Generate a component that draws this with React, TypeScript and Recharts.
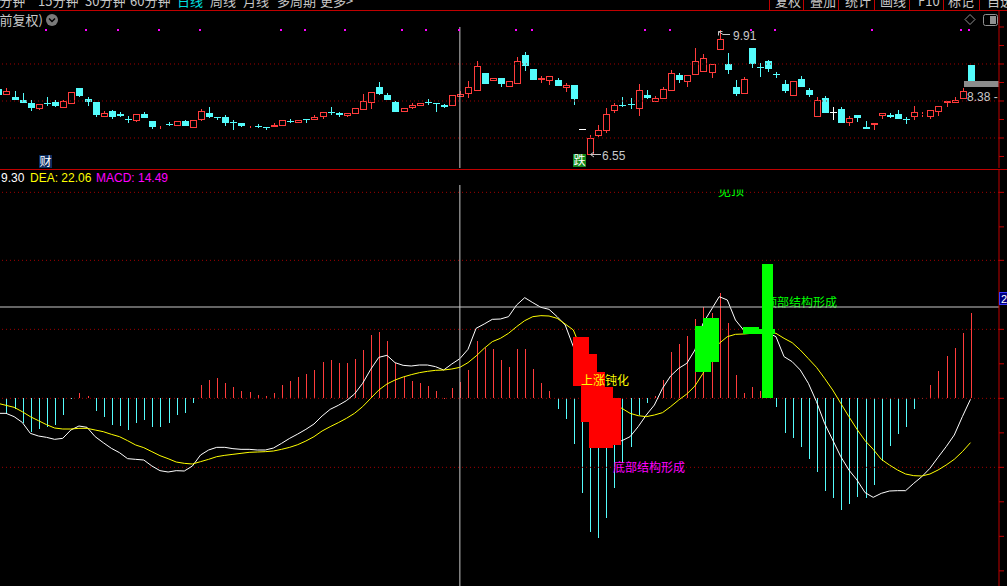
import React from "react";
import { Bar, ComposedChart, Line, ReferenceArea, ReferenceDot, ReferenceLine, XAxis, YAxis } from "recharts";

// daily candles (price)
const OPEN = [8.32, 8.15, 8.11, 8.03, 7.95, 7.79, 7.95, 7.97, 7.82, 7.93,
  8.35, 8.05, 7.97, 7.58, 7.72, 7.65, 7.51, 7.47, 7.65, 7.46,
  7.32, 7.39, 7.32, 7.46, 7.28, 7.49, 7.68, 7.57, 7.56, 7.42,
  7.41, 7.32, 7.33, 7.30, 7.31, 7.32, 7.46, 7.40, 7.51, 7.49,
  7.56, 7.69, 7.68, 7.60, 7.66, 7.76, 7.95, 8.38, 8.16, 7.97,
  7.71, 7.82, 7.86, 7.97, 7.95, 7.89, 7.86, 8.12, 8.18, 8.28,
  8.76, 8.55, 8.62, 8.39, 8.47, 9.25, 8.86, 8.56, 8.55, 8.57,
  8.36, 8.43, 7.24, 6.55, 7.06, 7.20, 7.74, 7.90, 7.92, 7.78,
  8.16, 7.98, 8.06, 8.28, 8.70, 8.52, 8.71, 8.79, 8.76, 9.37,
  9.00, 8.38, 8.20, 9.43, 8.92, 9.07, 8.74, 8.46, 8.13, 8.59,
  8.31, 7.58, 8.08, 7.71, 7.79, 7.40, 7.61, 7.30, 7.35, 7.59,
  7.62, 7.64, 7.52, 7.58, 7.62, 7.58, 7.71, 7.94, 7.94, 8.05,
  8.97];
const HIGH = [8.32, 8.34, 8.27, 8.22, 8.03, 7.91, 8.11, 8.02, 8.02, 8.24,
  8.35, 8.11, 7.97, 7.73, 7.76, 7.70, 7.59, 7.64, 7.69, 7.46,
  7.34, 7.43, 7.45, 7.49, 7.48, 7.78, 7.84, 7.57, 7.61, 7.49,
  7.41, 7.34, 7.38, 7.30, 7.41, 7.48, 7.51, 7.48, 7.51, 7.62,
  7.70, 7.83, 7.71, 7.68, 7.81, 8.20, 8.24, 8.51, 8.22, 8.00,
  7.80, 7.95, 7.94, 8.05, 7.95, 7.93, 8.15, 8.27, 8.54, 9.08,
  8.76, 8.61, 8.62, 8.54, 9.18, 9.32, 8.86, 8.68, 8.68, 8.61,
  8.49, 8.43, 7.24, 7.08, 7.35, 7.82, 7.94, 8.11, 8.08, 8.47,
  8.30, 8.14, 8.38, 8.84, 8.75, 8.70, 9.43, 9.27, 8.99, 9.91,
  9.30, 8.57, 8.65, 9.43, 9.02, 9.12, 8.79, 8.56, 8.53, 8.68,
  8.36, 8.10, 8.13, 7.83, 7.84, 7.59, 7.61, 7.46, 7.40, 7.67,
  7.67, 7.76, 7.57, 7.86, 7.70, 7.76, 7.86, 8.00, 8.10, 8.34,
  8.97];
const LOW = [8.16, 8.15, 8.03, 7.94, 7.74, 7.76, 7.87, 7.84, 7.82, 7.93,
  8.12, 7.87, 7.58, 7.58, 7.52, 7.58, 7.41, 7.43, 7.53, 7.25,
  7.24, 7.32, 7.32, 7.32, 7.28, 7.46, 7.54, 7.48, 7.33, 7.22,
  7.31, 7.26, 7.28, 7.22, 7.29, 7.32, 7.40, 7.40, 7.41, 7.49,
  7.51, 7.62, 7.58, 7.57, 7.66, 7.76, 7.79, 8.17, 8.03, 7.71,
  7.71, 7.79, 7.86, 7.89, 7.71, 7.82, 7.86, 8.12, 8.09, 8.28,
  8.46, 8.55, 8.39, 8.39, 8.47, 8.82, 8.57, 8.48, 8.43, 8.41,
  8.24, 7.89, 7.24, 6.55, 7.04, 7.14, 7.68, 7.83, 7.78, 7.60,
  8.05, 7.98, 8.06, 8.28, 8.49, 8.39, 8.71, 8.79, 8.61, 9.37,
  8.72, 8.14, 8.20, 8.90, 8.66, 8.79, 8.61, 8.22, 8.13, 8.39,
  8.12, 7.58, 7.68, 7.49, 7.41, 7.32, 7.44, 7.24, 7.22, 7.51,
  7.55, 7.51, 7.37, 7.49, 7.56, 7.51, 7.60, 7.85, 7.94, 8.05,
  8.54];
const CLOSE = [8.16, 8.26, 8.04, 7.95, 7.82, 7.91, 7.92, 7.87, 7.99, 8.24,
  8.14, 7.98, 7.63, 7.68, 7.58, 7.60, 7.49, 7.64, 7.55, 7.31,
  7.34, 7.37, 7.45, 7.33, 7.48, 7.72, 7.57, 7.55, 7.41, 7.41,
  7.32, 7.34, 7.32, 7.28, 7.35, 7.48, 7.44, 7.48, 7.49, 7.57,
  7.70, 7.67, 7.61, 7.68, 7.81, 8.00, 8.24, 8.19, 8.03, 7.71,
  7.80, 7.89, 7.94, 7.95, 7.91, 7.85, 8.15, 8.19, 8.37, 8.94,
  8.46, 8.61, 8.46, 8.54, 9.08, 8.95, 8.57, 8.62, 8.68, 8.41,
  8.44, 8.06, 7.24, 6.99, 7.21, 7.64, 7.88, 7.86, 7.88, 8.29,
  8.09, 8.08, 8.32, 8.76, 8.57, 8.70, 9.08, 9.16, 8.99, 9.68,
  8.84, 8.19, 8.59, 9.01, 8.88, 8.87, 8.71, 8.28, 8.53, 8.39,
  8.17, 8.02, 7.68, 7.71, 7.41, 7.53, 7.55, 7.24, 7.40, 7.67,
  7.58, 7.51, 7.49, 7.69, 7.64, 7.76, 7.86, 8.00, 8.03, 8.27,
  8.54];

// MACD panel
const MACD = [-12, -11.25, -8.25, -18.75, -25, -23.25, -21.25, -19.75, -12.75, -0.75,
  4.25, 1.75, -9.25, -13.75, -19.75, -20.5, -23.5, -18.25, -16, -21.25,
  -21.25, -18.25, -12.25, -10.75, -3.25, 10, 13.75, 15.25, 11.25, 8.5,
  5.5, 4.75, 2.5, 1.75, 4, 10, 13, 16.25, 18.5, 21.25,
  27.25, 28.75, 26.75, 26.75, 29.5, 36.25, 47.75, 49.75, 43, 26.25,
  16.25, 13.25, 11.75, 9.25, 5.75, 0.25, 7.75, 12.25, 21.25, 43,
  37.5, 37, 28.75, 23.5, 37, 37, 21.75, 11.25, 5.75, -8.25,
  -15.75, -34.25, -71.25, -100, -105, -89.5, -67.5, -48.75, -36.25, -12.5,
  -3.25, 1.75, 13.75, 35, 40.75, 47, 59.5, 68.5, 63.75, 79,
  56.25, 17.5, 4.25, 8.25, 5.25, 2.5, -6.25, -26.25, -29.5, -36.25,
  -45.25, -55, -69.25, -74.5, -83.75, -79.5, -73.75, -75, -65, -46.75,
  -35.75, -26.75, -21.25, -7.75, -0.25, 10, 20.5, 31.75, 37.75, 48.75,
  63.75];
const DIF = [-11.25, -11.25, -13.75, -18, -26.25, -28.25, -29.25, -30.75, -30, -23.75,
  -20.75, -21.75, -28.75, -33.25, -37.5, -40.75, -45.25, -45.75, -46.25, -50.75,
  -54.25, -55.25, -54.25, -54.5, -50.75, -42.5, -38.75, -36.75, -36.75, -37.75,
  -38.25, -38.25, -38.75, -38.75, -37.25, -33.75, -30, -26.75, -23.25, -19.25,
  -13.25, -8.25, -5.25, -1.75, 3.25, 11.25, 21.75, 30.75, 32.25, 26.75,
  24.75, 24.25, 25, 25, 23.75, 21.25, 25.75, 29.75, 36.75, 52.5,
  55.75, 59.25, 59.5, 61.25, 70, 75.5, 71.75, 68.25, 66.75, 61.25,
  55, 38.75, 23.75, -1.25, -18.75, -28.75, -32.5, -31.75, -28.75, -21.25,
  -12.5, -5, 7.5, 16.75, 22.5, 26.25, 36.25, 56.25, 66.25, 76.25,
  73.75, 58.75, 51.25, 49.25, 48.75, 49.25, 46.25, 31.25, 27.5, 21.25,
  11.25, -2.5, -18.75, -31.25, -43.75, -53.75, -61.25, -70.75, -74.25, -71.25,
  -69.5, -69.25, -69.25, -63.75, -58.75, -52.5, -44.25, -36.25, -27.5, -13.75,
  -0.75];
const DEA = [-3.75, -5.25, -6.75, -10, -13.75, -16.75, -19.75, -22.25, -23, -23,
  -22.5, -22.5, -23.75, -25, -27, -28.75, -31.75, -35, -37, -40,
  -43, -45.25, -47.75, -48.75, -49.25, -47.5, -45.75, -43.75, -42.75, -42,
  -41.25, -40.5, -40.25, -40, -39.5, -38.25, -36.75, -34.75, -32, -28.75,
  -24.5, -21.25, -18.25, -15, -11.25, -6.25, 0, 6.25, 10.75, 13.75,
  16, 17.75, 19.25, 20.25, 21, 21.25, 22, 23.25, 26.75, 31.75,
  37.5, 42.5, 45, 48.75, 53.75, 58.25, 61.25, 62, 61.75, 60,
  55.75, 51.25, 36.25, 21.25, 8.75, 0, -5, -7.5, -11.25, -13,
  -13.75, -12.5, -10.75, -6.25, -1.25, 3.25, 9.25, 18.75, 31.25, 41.25,
  46.25, 48, 48.25, 48.75, 49.25, 49.5, 48.75, 45, 41.75, 36.25,
  29.75, 23.25, 15, 6.25, -3.75, -13.75, -23.25, -31.75, -38.25, -45.75,
  -50, -53.75, -56.75, -58, -58.25, -56.75, -53.75, -50, -45.75, -40,
  -33.25];

// signal blocks drawn over the MACD panel
const RED_BLOCK_DAYS = [72, 73, 74, 75, 76];
const RED_BLOCK_LOW = [9.5, -17.5, -37, -37, -35];
const RED_BLOCK_HIGH = [46, 33.25, 20, 8.75, 0];
const GREEN_BLOCK_DAYS = [87, 88, 93, 95];
const GREEN_BLOCK_LOW = [20, 27.25, 48.5, 48.5];
const GREEN_BLOCK_HIGH = [54.25, 60.5, 53.5, 51.75];
const SPIKE_DAYS = [95];
const SPIKE_LOW = [0];
const SPIKE_HIGH = [100.5];

const SIGNAL_DAYS = [6, 11, 15, 20, 25, 35, 38, 43, 50, 53, 57, 64, 66, 80, 83, 93, 96, 108, 119, 120];
const SIGNAL_LEVEL = 9.92;

const PRICE_GRID = [9, 8, 7];
const PRICE_TICKS = [10, 9.5, 9, 8.5, 8, 7.5, 7, 6.5];
const MACD_GRID = [154.5, 103.5, 51.75, 0, -51.75];
const MACD_TICKS = [154.5, 128.6, 103.5, 77.6, 51.75, 25.9, 0, -25.9, -51.75, -77.6, -103.5, -129.4];

const LAST_PRICE = 8.38;
const LAST_BAND_TOP = 8.54;
const CROSS_DAY = 57;
const CROSS_VALUE = 68.5;

const PERIOD_TABS = ["5分钟", "15分钟", "30分钟", "60分钟", "日线", "周线", "月线", "多周期", "更多>"];
const TOOL_TABS = ["复权", "叠加", "统计", "画线", "F10", "标记", "自选"];

const X_DOMAIN: [number, number] = [0.259, 123.52];
const UP = "#ff3c3c";
const DOWN = "#54fcfc";
const GRID_RED = "#a00000";
const AXIS_RED = "#c00000";
const CROSS = "#c8c8c8";
const LABEL = "#c8c8c8";
const FONT = "'Liberation Sans', 'Noto Sans CJK SC', sans-serif";
const CJK = "'Noto Sans CJK SC', sans-serif";

const candles = OPEN.map((o, i) => ({ i, o, h: HIGH[i], l: LOW[i], c: CLOSE[i] }));

const pick = (days: number[], lo: number[], hi: number[], i: number) => {
  const k = days.indexOf(i);
  return k < 0 ? null : [lo[k], hi[k]];
};

const macdRows = MACD.map((m, i) => ({
  i,
  macd: m,
  dif: DIF[i],
  dea: DEA[i],
  red: pick(RED_BLOCK_DAYS, RED_BLOCK_LOW, RED_BLOCK_HIGH, i),
  green: pick(GREEN_BLOCK_DAYS, GREEN_BLOCK_LOW, GREEN_BLOCK_HIGH, i),
  spike: pick(SPIKE_DAYS, SPIKE_LOW, SPIKE_HIGH, i),
}));

function Candle(props: any) {
  const { x, y, width, height, payload } = props;
  if (x == null || y == null || !payload) return <g />;
  const { o, h, l, c } = payload;
  const cx = Math.round(x + width / 2);
  const span = h - l;
  const py = (v: number) => Math.round(span > 0 ? y + ((h - v) / span) * height : y);
  const top = py(Math.max(o, c));
  const bot = py(Math.min(o, c));
  const hi = py(h);
  const lo = py(l);
  if (c > o) {
    return (
      <g>
        {hi < top && <line x1={cx + 0.5} x2={cx + 0.5} y1={hi} y2={top} stroke={UP} />}
        {lo > bot && <line x1={cx + 0.5} x2={cx + 0.5} y1={bot} y2={lo} stroke={UP} />}
        <rect x={cx - 2.5} y={top + 0.5} width={6} height={Math.max(bot - top - 1, 0)} fill="#000" stroke={UP} />
      </g>
    );
  }
  if (c < o) {
    return (
      <g>
        {lo > hi && <line x1={cx + 0.5} x2={cx + 0.5} y1={hi} y2={lo} stroke={DOWN} />}
        <rect x={cx - 3} y={top} width={7} height={Math.max(bot - top, 1)} fill={DOWN} />
      </g>
    );
  }
  return (
    <g>
      {lo > hi && <line x1={cx + 0.5} x2={cx + 0.5} y1={hi} y2={lo} stroke="#ffffff" />}
      <line x1={cx - 3} x2={cx + 4} y1={top + 0.5} y2={top + 0.5} stroke="#ffffff" />
    </g>
  );
}

function MacdStick(props: any) {
  const { x, y, width, height, payload } = props;
  if (x == null || y == null || !height) return <g />;
  const cx = Math.round(x + width / 2);
  const y0 = Math.round(Math.min(y, y + height));
  const y1 = Math.round(Math.max(y, y + height));
  return <rect x={cx} y={y0} width={1} height={Math.max(y1 - y0, 1)} fill={payload.macd >= 0 ? UP : DOWN} />;
}

const blockShape = (key: "red" | "green" | "spike", w: number, fill: string) => (props: any) => {
  const { x, y, width, height, payload } = props;
  if (!payload || !payload[key] || x == null || y == null) return <g />;
  const cx = x + width / 2;
  const y0 = Math.round(Math.min(y, y + height));
  const y1 = Math.round(Math.max(y, y + height));
  return <rect x={Math.round(cx - w / 2)} y={y0} width={w} height={y1 - y0} fill={fill} />;
};

const signalShape = (p: any) => (
  <rect x={Math.round(p.cx) - 2} y={Math.round(p.cy) - 1} width={2} height={2} fill="#ff00ff" />
);

function PriceChart() {
  return (
    <ComposedChart width={1007} height={157} data={candles} margin={{ top: 0, right: 0, bottom: 0, left: 0 }}>
      <XAxis dataKey="i" type="number" domain={X_DOMAIN} allowDataOverflow hide />
      <YAxis
        orientation="right"
        width={8}
        domain={[6.189, 10.432]}
        allowDataOverflow
        ticks={PRICE_TICKS}
        interval={0}
        tickFormatter={() => ""}
        tickSize={5}
        axisLine={{ stroke: AXIS_RED }}
        tickLine={{ stroke: AXIS_RED }}
      />
      {PRICE_GRID.map((v) => (
        <ReferenceLine key={v} y={v} stroke={GRID_RED} strokeDasharray="1 3" />
      ))}
      <ReferenceLine
        segment={[{ x: CROSS_DAY, y: 10 }, { x: CROSS_DAY, y: 6.0 }]}
        stroke={CROSS}
        ifOverflow="hidden"
      />
      <Bar dataKey={(d: any) => [d.l, d.h]} barSize={7} shape={Candle} isAnimationActive={false} />
      <ReferenceArea
        x1={119.2}
        x2={123.5}
        y1={LAST_PRICE}
        y2={LAST_BAND_TOP}
        fill="#8c8c8c"
        fillOpacity={1}
        stroke="none"
        ifOverflow="hidden"
      />
      {SIGNAL_DAYS.map((d) => (
        <ReferenceDot key={d} x={d} y={SIGNAL_LEVEL} r={1} shape={signalShape} />
      ))}
    </ComposedChart>
  );
}

function MacdChart() {
  return (
    <ComposedChart width={1007} height={416} data={macdRows} margin={{ top: 0, right: 0, bottom: 0, left: 0 }}>
      <XAxis dataKey="i" type="number" domain={X_DOMAIN} allowDataOverflow hide />
      <XAxis xAxisId="r" dataKey="i" type="number" domain={X_DOMAIN} allowDataOverflow hide />
      <XAxis xAxisId="g" dataKey="i" type="number" domain={X_DOMAIN} allowDataOverflow hide />
      <XAxis xAxisId="s" dataKey="i" type="number" domain={X_DOMAIN} allowDataOverflow hide />
      <YAxis
        orientation="right"
        width={8}
        domain={[-140.75, 171.25]}
        allowDataOverflow
        ticks={MACD_TICKS}
        interval={0}
        tickFormatter={() => ""}
        tickSize={5}
        axisLine={{ stroke: AXIS_RED }}
        tickLine={{ stroke: AXIS_RED }}
      />
      {MACD_GRID.map((v) => (
        <ReferenceLine key={v} y={v} stroke={GRID_RED} strokeDasharray="1 3" />
      ))}
      <Bar dataKey="macd" barSize={1} shape={MacdStick} isAnimationActive={false} />
      <Line dataKey="dif" type="linear" stroke="#ffffff" strokeWidth={1} dot={false} isAnimationActive={false} />
      <Line dataKey="dea" type="linear" stroke="#ffff00" strokeWidth={1} dot={false} isAnimationActive={false} />
      <Bar
        xAxisId="r"
        dataKey={(d: any) => d.red}
        barSize={16}
        shape={blockShape("red", 16, "#ff0000")}
        isAnimationActive={false}
        zIndex={650}
      />
      <Bar
        xAxisId="g"
        dataKey={(d: any) => d.green}
        barSize={16}
        shape={blockShape("green", 16, "#00ff00")}
        isAnimationActive={false}
        zIndex={650}
      />
      <Bar
        xAxisId="s"
        dataKey={(d: any) => d.spike}
        barSize={11}
        shape={blockShape("spike", 11, "#00ff00")}
        isAnimationActive={false}
        zIndex={660}
      />
      <ReferenceLine y={CROSS_VALUE} stroke={CROSS} />
      <ReferenceLine
        segment={[{ x: CROSS_DAY, y: 160 }, { x: CROSS_DAY, y: -150 }]}
        stroke={CROSS}
        ifOverflow="hidden"
      />
    </ComposedChart>
  );
}

export default function App() {
  const periodX = [-8, 38, 85, 130, 177, 210, 243, 277, 320];
  const toolX = [775, 810, 845, 880, 918, 948, 987];
  const sepX = [769, 803, 838, 874, 909, 943, 979];
  return (
    <div style={{ position: "fixed", left: 0, top: 0, width: 1007, height: 586, background: "#000", overflow: "hidden" }}>
      {/* text that the green spike covers */}
      <svg width={1007} height={586} style={{ position: "absolute", left: 0, top: 0 }}>
        <text x={765} y={307} fill="#00ff00" fontSize={12} fontFamily={CJK}>顶部结构形成</text>
      </svg>

      <div style={{ position: "absolute", left: 0, top: 11 }}>
        <PriceChart />
      </div>
      <div style={{ position: "absolute", left: 0, top: 170 }}>
        <MacdChart />
      </div>

      <svg width={1007} height={586} style={{ position: "absolute", left: 0, top: 0, pointerEvents: "none" }}>
        <defs>
          <clipPath id="cutTop">
            <rect x={700} y={189.5} width={60} height={10} />
          </clipPath>
        </defs>

        {/* toolbar */}
        {PERIOD_TABS.map((t, k) => (
          <text key={t} x={periodX[k]} y={6} fontSize={13} fontFamily={CJK} fill={t === "日线" ? "#00e0e0" : LABEL}>
            {t}
          </text>
        ))}
        {TOOL_TABS.map((t, k) => (
          <text key={t} x={toolX[k]} y={6} fontSize={13} fontFamily={CJK} fill={LABEL}>
            {t}
          </text>
        ))}
        {sepX.map((x) => (
          <line key={x} x1={x + 0.5} x2={x + 0.5} y1={0} y2={10} stroke={AXIS_RED} />
        ))}
        <line x1={0} x2={1007} y1={10.5} y2={10.5} stroke={AXIS_RED} />
        <line x1={0} x2={1007} y1={169.5} y2={169.5} stroke={AXIS_RED} />

        {/* price panel header */}
        <text x={-5} y={25} fontSize={13} fontFamily={CJK} fill={LABEL}>(前复权)</text>
        <circle cx={52} cy={20} r={6} fill="#7a7a7a" />
        <path d="M49 18.5 L52 21.5 L55 18.5" stroke="#000" strokeWidth={1.5} fill="none" />
        <path d="M970 14.5 L975 19.5 L970 24.5 L965 19.5 Z" stroke="#909090" fill="none" />
        <rect x={983.5} y={14.5} width={14} height={11} rx={2} stroke="#909090" fill="none" />
        <rect x={990} y={16} width={6} height={8} fill="#909090" />

        {/* price annotations */}
        <path d="M718.5 35.5 L718.5 31.5 L722.5 31.5 M718.5 31.5 L723 34.5 L730 34.5" stroke={LABEL} fill="none" />
        <text x={733} y={40} fontSize={12} fontFamily={FONT} fill={LABEL}>{HIGH[89].toFixed(2)}</text>
        <path d="M594 152 L590.5 154.5 L594 157 M590.5 154.5 L601 154.5" stroke={LABEL} fill="none" />
        <text x={602} y={160} fontSize={12} fontFamily={FONT} fill={LABEL}>{LOW[73].toFixed(2)}</text>
        <text x={967} y={101} fontSize={12} fontFamily={FONT} fill={LABEL}>{LAST_PRICE.toFixed(2)} -</text>
        <rect x={573} y={154} width={13} height={13} fill="#12881a" />
        <text x={573.5} y={165} fontSize={12} fontFamily={CJK} fill="#ffffff">跌</text>
        <rect x={39} y={155} width={13} height={13} fill="#0b2c60" />
        <text x={39.5} y={166} fontSize={12} fontFamily={CJK} fill="#ffffff">财</text>

        {/* MACD header */}
        <text x={1} y={182} fontSize={12} fontFamily={FONT} fill="#ffffff">9.30</text>
        <text x={30} y={182} fontSize={12} fontFamily={FONT} fill="#ffff00">DEA: 22.06</text>
        <text x={96} y={182} fontSize={12} fontFamily={FONT} fill="#ff00ff">MACD: 14.49</text>
        <text x={718} y={195} fontSize={13} fontFamily={CJK} fill="#00ff00" clipPath="url(#cutTop)">见顶</text>

        {/* MACD annotations */}
        <text x={581} y={385} fontSize={12} fontFamily={CJK} fill="#ffff00">上涨钝化</text>
        <text x={613} y={472} fontSize={12} fontFamily={CJK} fill="#ff00ff">底部结构形成</text>
        <rect x={999.5} y={292.5} width={8} height={12} fill="#000080" stroke="#3a3aff" />
        <text x={1001} y={303} fontSize={11} fontFamily={FONT} fill="#ffffff">2</text>
      </svg>
    </div>
  );
}
